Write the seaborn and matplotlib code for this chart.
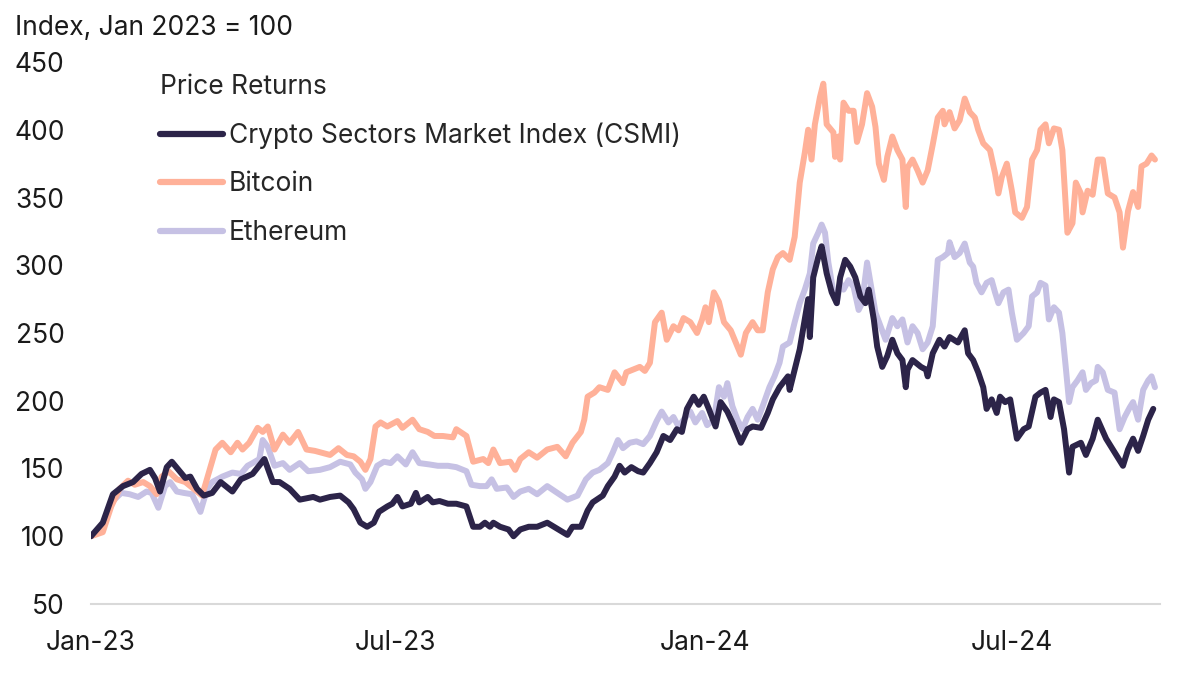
import pandas as pd
import seaborn as sns
import matplotlib.pyplot as plt
import matplotlib.dates as mdates

# days since 2023-01-01
csmi_days = [0, 7, 13, 19, 25, 30, 35, 38, 41, 45, 48, 52, 56, 59, 63, 67, 72, 77, 84, 89,
             96, 103, 108, 112, 118, 124, 132, 136, 142, 148, 153, 156, 160, 164, 168, 171, 176, 179, 182, 185,
             190, 193, 195, 200, 203, 207, 212, 217, 223, 227, 231, 234, 237, 239, 243, 248, 251, 255, 260, 265,
             271, 275, 279, 283, 286, 291, 295, 298, 304, 307, 311, 314, 317, 321, 325, 328, 332, 336, 340, 344,
             348, 351, 354, 358, 361, 364, 367, 371, 374, 378, 381, 386, 390, 393, 398, 402, 405, 409, 414, 415,
             418, 421, 424, 426, 427, 429, 432, 434, 437, 440, 443, 445, 448, 451, 454, 457, 460, 462, 465, 467,
             470, 473, 476, 479, 482, 484, 485, 488, 493, 496, 497, 500, 504, 507, 510, 515, 519, 521, 524, 527,
             530, 532, 535, 538, 540, 543, 546, 550, 554, 557, 561, 564, 567, 570, 572, 575, 578, 581, 583, 588,
             591, 595, 598, 603, 607, 613, 616, 619, 622, 625, 628, 631]
csmi_vals = [100, 110, 131, 137, 140, 146, 149, 143, 133, 151, 155, 149, 143, 144, 135, 130, 132, 140, 133, 142,
             146, 157, 140, 140, 135, 127, 129, 127, 129, 130, 125, 120, 110, 107, 110, 118, 122, 124, 129, 122,
             124, 132, 125, 129, 125, 126, 124, 124, 122, 107, 107, 110, 107, 110, 107, 105, 100, 105, 107, 107,
             110, 107, 104, 101, 107, 107, 119, 125, 130, 137, 144, 152, 147, 151, 148, 147, 154, 162, 174, 171,
             179, 177, 194, 203, 197, 203, 194, 181, 199, 192, 184, 169, 179, 181, 180, 191, 201, 210, 218, 208,
             223, 238, 260, 275, 247, 291, 306, 314, 294, 280, 272, 291, 304, 299, 291, 277, 272, 282, 260, 240,
             225, 233, 245, 235, 230, 210, 223, 230, 225, 223, 218, 235, 245, 240, 247, 243, 252, 235, 230, 221,
             210, 194, 201, 191, 203, 199, 201, 172, 179, 181, 203, 206, 208, 188, 201, 199, 179, 147, 166, 169,
             160, 172, 186, 172, 164, 152, 164, 172, 163, 174, 186, 194]

btc_days = [0, 7, 12, 17, 22, 26, 31, 35, 39, 42, 46, 51, 56, 61, 66, 70, 74, 78, 83, 87,
            90, 94, 99, 102, 105, 109, 114, 118, 123, 128, 133, 136, 142, 147, 152, 156, 160, 163, 166, 169,
            172, 176, 182, 185, 191, 195, 200, 204, 209, 215, 217, 223, 227, 233, 236, 239, 243, 249, 252, 255,
            260, 265, 271, 277, 282, 286, 291, 293, 295, 299, 302, 307, 311, 316, 318, 322, 326, 329, 332, 335,
            339, 342, 346, 349, 352, 356, 360, 363, 365, 367, 370, 373, 376, 380, 383, 386, 389, 393, 396, 399,
            402, 405, 408, 411, 415, 418, 421, 424, 426, 428, 430, 433, 435, 437, 441, 442, 444, 445, 447, 450,
            453, 455, 458, 461, 464, 466, 468, 471, 473, 476, 479, 482, 484, 485, 488, 491, 494, 497, 500, 503,
            506, 507, 510, 513, 516, 519, 522, 525, 527, 530, 534, 537, 539, 541, 544, 547, 549, 553, 556, 559,
            562, 564, 567, 569, 572, 575, 577, 580, 583, 585, 588, 589, 592, 595, 598, 601, 604, 608, 611, 613,
            616, 619, 622, 624, 627, 630, 632]
btc_vals = [100, 103, 122, 135, 141, 138, 140, 137, 131, 144, 148, 142, 140, 135, 130, 147, 164, 169, 162, 169,
            164, 169, 180, 177, 181, 164, 175, 169, 177, 164, 163, 162, 160, 165, 160, 159, 155, 149, 157, 181,
            184, 181, 185, 180, 186, 179, 177, 174, 174, 173, 179, 174, 155, 157, 154, 164, 154, 155, 149, 157,
            162, 158, 164, 166, 159, 169, 177, 186, 203, 206, 210, 208, 221, 213, 221, 223, 225, 222, 228, 258,
            265, 245, 255, 252, 261, 258, 250, 260, 269, 258, 280, 273, 258, 252, 243, 234, 250, 258, 252, 252,
            280, 297, 306, 309, 304, 321, 361, 383, 400, 378, 404, 424, 434, 404, 398, 380, 395, 378, 420, 414,
            414, 391, 404, 427, 417, 402, 375, 363, 380, 395, 385, 378, 343, 372, 378, 370, 361, 370, 389, 409,
            414, 404, 413, 401, 407, 423, 413, 409, 400, 390, 385, 368, 353, 365, 375, 355, 339, 335, 343, 378,
            385, 400, 404, 390, 401, 400, 385, 324, 331, 361, 353, 339, 355, 352, 378, 378, 353, 350, 339, 313,
            340, 354, 343, 373, 375, 381, 378]

eth_days = [0, 7, 13, 18, 23, 28, 33, 36, 40, 44, 47, 51, 55, 60, 65, 69, 72, 78, 84, 89,
            93, 96, 100, 102, 105, 109, 114, 118, 124, 129, 136, 142, 148, 154, 157, 161, 163, 166, 170, 174,
            178, 182, 187, 191, 195, 201, 206, 212, 217, 223, 226, 231, 235, 238, 241, 247, 251, 255, 260, 265,
            271, 277, 283, 289, 294, 298, 302, 307, 310, 313, 316, 320, 324, 328, 332, 336, 339, 343, 346, 349,
            352, 356, 359, 363, 366, 370, 373, 376, 378, 381, 384, 387, 390, 393, 396, 399, 403, 406, 409, 411,
            415, 418, 421, 424, 427, 429, 432, 434, 436, 438, 441, 443, 445, 447, 450, 453, 456, 458, 461, 464,
            466, 469, 472, 476, 479, 482, 485, 488, 491, 494, 497, 500, 503, 506, 509, 510, 513, 516, 519, 522,
            524, 526, 529, 532, 535, 537, 539, 542, 545, 547, 550, 554, 557, 559, 562, 564, 567, 569, 572, 575,
            577, 579, 581, 583, 586, 589, 591, 594, 597, 598, 601, 604, 608, 611, 614, 617, 619, 622, 625, 628,
            630, 632]
eth_vals = [100, 107, 126, 132, 131, 129, 133, 132, 121, 137, 140, 133, 132, 131, 118, 135, 140, 144, 147, 146,
            152, 154, 157, 171, 166, 152, 154, 149, 154, 148, 149, 151, 155, 153, 147, 142, 135, 140, 152, 155,
            154, 159, 153, 162, 154, 153, 152, 152, 151, 148, 138, 137, 137, 142, 135, 136, 129, 133, 135, 131,
            137, 132, 127, 130, 142, 147, 149, 154, 162, 171, 165, 169, 170, 168, 174, 185, 192, 184, 188, 181,
            186, 192, 184, 191, 182, 186, 210, 203, 213, 196, 186, 179, 188, 194, 186, 196, 210, 218, 228, 240,
            243, 258, 272, 282, 294, 316, 324, 330, 324, 302, 280, 272, 287, 282, 289, 284, 267, 272, 302, 280,
            265, 255, 245, 261, 255, 260, 243, 255, 250, 238, 243, 255, 304, 306, 309, 317, 306, 309, 316, 302,
            299, 287, 280, 287, 289, 280, 272, 280, 282, 265, 245, 250, 255, 277, 280, 287, 285, 260, 269, 265,
            250, 225, 199, 210, 215, 221, 208, 213, 215, 225, 221, 208, 206, 179, 188, 195, 199, 186, 208, 215,
            218, 210]

names = ['Crypto Sectors Market Index (CSMI)', 'Bitcoin', 'Ethereum']
colors = ['#2c2449', '#ffb199', '#c6c1e4']
y_ticks = [50, 100, 150, 200, 250, 300, 350, 400, 450]

base = pd.Timestamp('2023-01-01')


def to_frame(days, vals, name):
    return pd.DataFrame({'date': base + pd.to_timedelta(days, unit='D'), 'value': vals, 'series': name})


df = pd.concat([to_frame(csmi_days, csmi_vals, names[0]),
                to_frame(btc_days, btc_vals, names[1]),
                to_frame(eth_days, eth_vals, names[2])], ignore_index=True)

sns.set_theme(style='white')
plt.rcParams['font.family'] = ['Inter', 'DejaVu Sans']
fs = 19

fig = plt.figure(figsize=(12, 6.75), dpi=100)
ax = fig.add_axes([91 / 1200, 71 / 675, (1160 - 91) / 1200, (604 - 62) / 675])

# draw Ethereum and Bitcoin below, CSMI on top
for name, color, z in [(names[2], colors[2], 2), (names[1], colors[1], 3), (names[0], colors[0], 4)]:
    sns.lineplot(data=df[df['series'] == name], x='date', y='value', color=color,
                 linewidth=4.3, label=name, ax=ax, zorder=z, legend=False)

ax.set_xlim(base, base + pd.Timedelta(days=635))
ax.set_ylim(50, 450)
ax.set_yticks(y_ticks)
ax.xaxis.set_major_locator(mdates.MonthLocator(bymonth=[1, 7]))
ax.xaxis.set_major_formatter(mdates.DateFormatter('%b-%y'))
ax.set_xlabel('')
ax.set_ylabel('')
ax.tick_params(axis='both', length=0, labelsize=fs, colors='#1a1a1a')
ax.tick_params(axis='y', pad=19)
ax.tick_params(axis='x', pad=19)
for side in ['top', 'right', 'left']:
    ax.spines[side].set_visible(False)
ax.spines['bottom'].set_color('#d9d9d9')
ax.spines['bottom'].set_linewidth(1.5)
ax.grid(False)

fig.text(15 / 1200, 1 - 28 / 675, 'Index, Jan 2023 = 100', fontsize=fs, va='center', ha='left',
         color='#1a1a1a')

handles, labels = ax.get_legend_handles_labels()
order = [labels.index(n) for n in names]
leg = ax.legend([handles[i] for i in order], [labels[i] for i in order], title='Price Returns',
                loc='upper left', bbox_to_anchor=(160 / 1200, 1 - 74 / 675), bbox_transform=fig.transFigure,
                frameon=False, fontsize=fs, title_fontsize=fs, handlelength=2.4, handletextpad=0.2,
                labelspacing=0.85, borderpad=0, borderaxespad=0)
leg._legend_box.align = 'left'
for line in leg.get_lines():
    line.set_linewidth(4.5)

fig.savefig('out.png', dpi=100)
